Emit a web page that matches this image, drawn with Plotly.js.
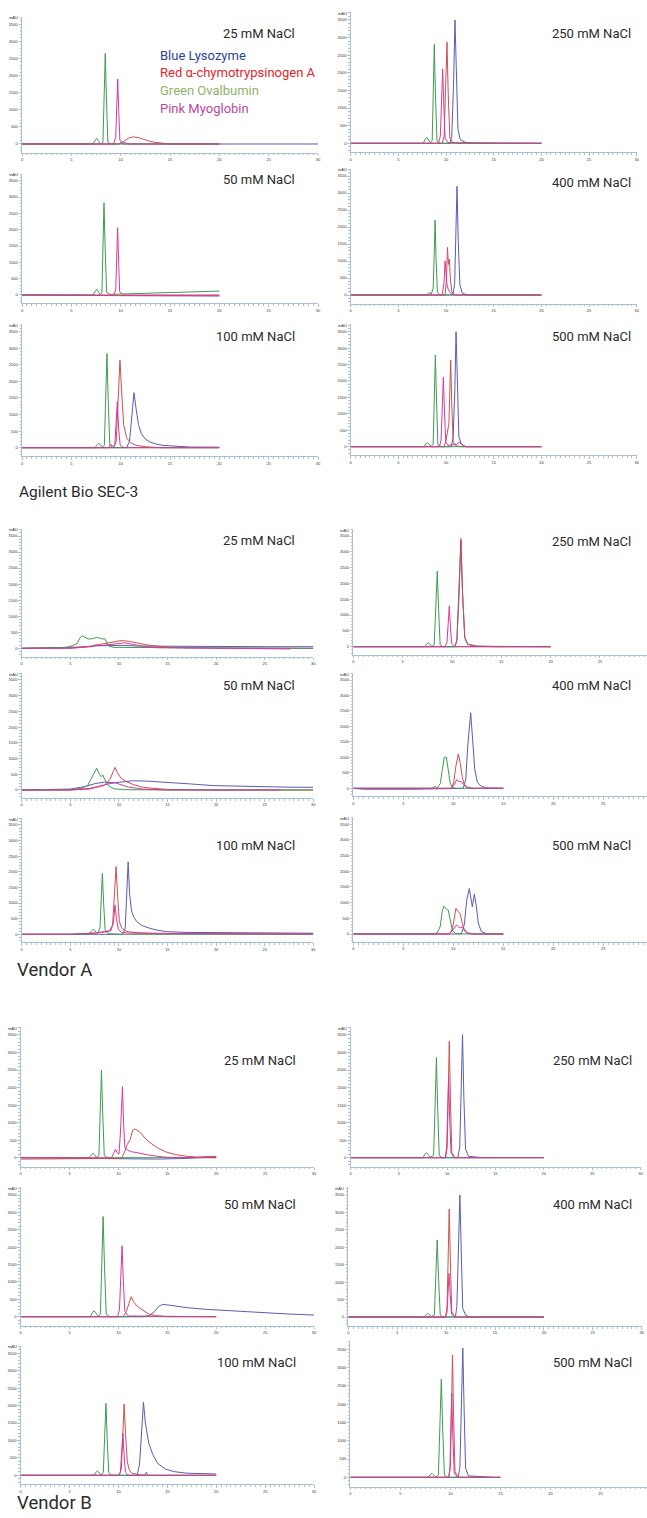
<!DOCTYPE html>
<html><head><meta charset="utf-8">
<script src="https://cdn.plot.ly/plotly-3.0.1.min.js"></script>
<style>html,body{margin:0;padding:0;background:#fff}</style>
</head><body><div id="chart" style="width:647px;height:1518px"></div>
<script>
// ---------- DATA: [time (min), absorbance (mAU)] ----------
// Agilent Bio SEC-3
const agi25_blue  = [[0,0],[9.8,0],[10.1,30],[10.3,45],[10.6,20],[11,0],[20,0],[30,0]];
const agi25_red   = [[0,0],[9.8,0],[10.3,80],[10.8,170],[11.3,210],[11.9,180],[12.6,110],[13.4,50],[14.5,15],[15.5,0],[20,0]];
const agi25_green = [[0,0],[7.2,0],[7.45,120],[7.57,165],[7.7,110],[7.95,0],[8.2,40],[8.32,1300],[8.44,2650],[8.56,1300],[8.7,60],[9.0,0],[20,0]];
const agi25_pink  = [[0,0],[9.3,0],[9.5,200],[9.6,1000],[9.7,1900],[9.8,1000],[9.92,120],[10.2,0],[20,0]];

const agi50_blue  = [[0,0],[4,-15],[10,-20],[16,-25],[20,-30]];
const agi50_red   = [[0,0],[4,-10],[10,-15],[20,-20]];
const agi50_green = [[0,0],[7.2,0],[7.45,130],[7.57,180],[7.7,120],[7.9,10],[8.1,60],[8.2,1400],[8.31,2820],[8.43,1400],[8.58,80],[8.9,20],[10,30],[15,75],[20,120]];
const agi50_pink  = [[0,0],[9.3,0],[9.5,150],[9.59,1050],[9.69,2060],[9.79,1050],[9.9,100],[10.2,0],[20,0]];

const agi100_blue  = [[0,0],[10.6,0],[10.9,200],[11.1,800],[11.35,1660],[11.55,1200],[11.8,700],[12.1,420],[12.5,260],[13,170],[13.6,110],[14.3,70],[15.5,40],[17,20],[20,15]];
const agi100_red   = [[0,0],[9.3,0],[9.55,200],[9.75,1400],[9.93,2640],[10.1,1700],[10.3,700],[10.6,300],[11,150],[11.6,70],[12.5,30],[14,0],[20,0]];
const agi100_green = [[0,0],[7.4,0],[7.65,100],[7.8,130],[7.95,90],[8.15,10],[8.35,80],[8.48,1450],[8.61,2840],[8.74,1400],[8.9,80],[9.2,0],[20,0]];
const agi100_pink  = [[0,0],[8.8,0],[8.95,80],[9.05,100],[9.2,30],[9.4,80],[9.53,700],[9.66,1390],[9.79,600],[9.95,80],[10.3,0],[20,0]];

const agi250_blue  = [[0,0],[10.4,0],[10.6,200],[10.78,1600],[10.94,3500],[11.08,1700],[11.25,400],[11.5,100],[12,30],[13,0],[20,0]];
const agi250_red   = [[0,0],[9.6,0],[9.8,200],[9.95,1400],[10.1,2870],[10.23,1400],[10.4,150],[10.7,30],[11.2,0],[20,0]];
const agi250_green = [[0,0],[7.6,0],[7.85,130],[7.98,170],[8.1,120],[8.35,10],[8.55,80],[8.65,1400],[8.77,2810],[8.89,1400],[9.05,60],[9.4,0],[20,0]];
const agi250_pink  = [[0,0],[9.2,0],[9.4,200],[9.53,1050],[9.65,2110],[9.77,1050],[9.9,150],[10.2,20],[20,0]];

const agi400_blue  = [[0,0],[10.7,0],[10.9,300],[11.02,1600],[11.15,3200],[11.28,1600],[11.45,300],[11.7,60],[12.2,0],[20,0]];
const agi400_red   = [[0,0],[9.9,0],[10.05,500],[10.15,1400],[10.25,900],[10.35,1050],[10.45,500],[10.6,100],[10.9,0],[20,0]];
const agi400_green = [[0,0],[8.0,0],[8.2,60],[8.3,80],[8.45,20],[8.65,200],[8.75,1100],[8.85,2200],[8.95,1100],[9.1,80],[9.4,0],[20,0]];
const agi400_pink  = [[0,0],[9.6,0],[9.8,400],[9.9,1000],[10.0,650],[10.1,300],[10.25,150],[10.5,50],[10.8,0],[20,0]];

const agi500_blue  = [[0,0],[10.55,0],[10.75,300],[10.92,1700],[11.05,3500],[11.18,1700],[11.35,300],[11.6,80],[12.1,0],[20,0]];
const agi500_red   = [[0,0],[9.8,0],[10.0,200],[10.2,500],[10.3,700],[10.38,1500],[10.49,2640],[10.6,1300],[10.75,150],[11.0,30],[11.6,0],[20,0]];
const agi500_green = [[0,0],[7.7,0],[7.9,90],[8.04,120],[8.18,80],[8.45,10],[8.65,80],[8.76,1400],[8.88,2790],[9.0,1400],[9.15,60],[9.5,0],[20,0]];
const agi500_pink  = [[0,0],[9.3,0],[9.48,200],[9.6,1050],[9.72,2110],[9.84,1050],[9.97,150],[10.2,40],[11.2,80],[11.4,150],[11.6,80],[12,0],[20,0]];

// Vendor A
const va25_blue  = [[0,0],[3,10],[6,40],[8,80],[9.5,100],[10.5,90],[12,70],[15,60],[20,55],[25,50],[30,50]];
const va25_red   = [[0,0],[5,10],[7,60],[8.5,150],[9.5,210],[10.2,240],[11,220],[12,160],[13,100],[14.5,50],[16,20],[20,10],[30,0]];
const va25_green = [[0,0],[4.5,20],[5.2,80],[5.7,150],[6.0,330],[6.25,390],[6.5,340],[6.9,290],[7.3,300],[7.7,340],[8.0,320],[8.3,290],[8.55,300],[8.75,200],[8.95,70],[9.5,30],[12,20],[20,10],[30,0]];
const va25_pink  = [[0,0],[5,0],[7.2,50],[7.6,110],[8,80],[9,120],[10,160],[10.6,170],[11.5,120],[12.5,60],[14,20],[20,0],[25,-20],[27.6,-20]];

const va50_blue  = [[0,0],[3,5],[5,30],[6.5,110],[7.5,200],[8.5,250],[9.5,230],[10.5,260],[11.5,295],[13,280],[15,250],[17.5,190],[19.7,140],[22.5,115],[25,100],[27.5,90],[30,85]];
const va50_red   = [[0,0],[5,0],[7,30],[8.5,150],[9.1,350],[9.4,600],[9.6,720],[9.85,550],[10.2,380],[10.8,260],[11.5,170],[12.3,100],[13.2,60],[15,20],[20,0],[30,0]];
const va50_green = [[0,0],[5,10],[6.2,50],[6.8,150],[7.3,450],[7.72,690],[8.0,500],[8.2,420],[8.34,477],[8.6,300],[9.0,120],[9.5,40],[10.5,10],[15,0],[30,0]];
const va50_pink  = [[0,0],[5,0],[7,50],[8.2,150],[9,200],[9.6,230],[10.2,180],[11,90],[12.5,30],[15,0],[26.5,0]];

const va100_blue  = [[0,0],[10.4,0],[10.65,200],[10.8,1200],[10.95,2320],[11.1,1300],[11.3,750],[11.5,566],[11.8,420],[12.3,290],[13.2,190],[14,130],[14.9,85],[17,60],[20,50],[25,40],[30,35]];
const va100_red   = [[0,0],[5,0],[7.5,40],[9,90],[9.35,300],[9.55,1200],[9.71,2170],[9.87,1200],[10.05,400],[10.3,200],[10.6,120],[11,80],[12,50],[14,30],[20,20],[30,10]];
const va100_green = [[0,0],[6.9,0],[7.2,110],[7.38,160],[7.55,100],[7.8,20],[8.05,200],[8.17,1000],[8.3,1950],[8.43,1000],[8.58,150],[8.9,20],[10,0],[30,0]];
const va100_pink  = [[0,0],[5,0],[7.5,40],[9.2,120],[9.45,400],[9.6,940],[9.75,500],[9.95,150],[10.3,60],[11,40],[14,20],[22,20],[30,10]];

const va250_blue  = [[0,0],[10.3,0],[10.5,220],[10.72,1650],[10.9,3350],[11.07,1650],[11.3,280],[11.6,70],[12.5,15],[20,0]];
const va250_red   = [[0,0],[10.3,0],[10.5,200],[10.72,1700],[10.91,3420],[11.08,1700],[11.3,300],[11.6,80],[12.5,20],[14.2,0],[20,0]];
const va250_green = [[0,0],[7.2,0],[7.45,90],[7.6,120],[7.75,90],[7.95,10],[8.2,60],[8.38,1200],[8.51,2390],[8.64,1200],[8.8,60],[9.1,0],[20,0]];
const va250_pink  = [[0,0],[9.3,0],[9.5,150],[9.62,650],[9.73,1290],[9.84,650],[9.97,100],[10.3,0],[20,0]];

const va400_blue  = [[0,0],[1,-30],[6,-30],[9,0],[11.0,0],[11.25,300],[11.45,1400],[11.74,2440],[11.95,1500],[12.15,600],[12.4,200],[12.8,60],[13.5,10],[15,0]];
const va400_red   = [[0,0],[9.8,0],[10.05,200],[10.25,700],[10.5,1110],[10.7,800],[10.9,350],[11.1,120],[11.4,30],[12,0],[15,0]];
const va400_green = [[0,0],[7.8,0],[8.05,40],[8.2,55],[8.4,20],[8.7,150],[8.9,600],[9.1,1000],[9.3,1010],[9.5,600],[9.7,150],[9.95,20],[10.3,0],[15,0]];
const va400_pink  = [[0,0],[9.8,0],[10.1,120],[10.35,280],[10.55,220],[10.8,210],[11.0,130],[11.3,40],[11.8,0],[15,0]];

const va500_blue  = [[0,0],[10.8,0],[11.1,300],[11.35,1100],[11.6,1450],[11.75,1150],[11.9,870],[12.1,1270],[12.3,900],[12.5,350],[12.8,80],[13.3,10],[15,0]];
const va500_red   = [[0,0],[9.6,0],[9.9,150],[10.1,600],[10.27,820],[10.45,730],[10.67,660],[10.9,350],[11.1,100],[11.4,20],[12,0],[15,0]];
const va500_green = [[0,0],[8.0,0],[8.4,40],[8.7,250],[8.9,750],[9.07,890],[9.3,800],[9.5,760],[9.7,450],[9.9,120],[10.2,20],[11,0],[15,0]];
const va500_pink  = [[0,0],[9.6,0],[9.95,120],[10.2,260],[10.33,290],[10.55,220],[10.75,200],[10.9,230],[11.1,140],[11.4,40],[12,0],[15,0]];

// Vendor B
const vb25_blue  = [[0,0],[5,-10],[8,-20],[11,-40],[14,-40],[17,-20],[19,20],[20,30]];
const vb25_red   = [[0,-40],[5,-40],[10.3,-20],[10.6,150],[10.9,380],[11.2,520],[11.45,780],[11.65,818],[11.9,790],[12.3,700],[12.7,560],[13.1,457],[13.5,370],[13.9,295],[14.8,171],[15.8,90],[17,40],[18,20],[20,40]];
const vb25_green = [[0,0],[7.0,0],[7.25,90],[7.38,125],[7.52,90],[7.75,10],[8.0,60],[8.13,1250],[8.26,2500],[8.39,1250],[8.55,60],[8.9,0],[20,0]];
const vb25_pink  = [[0,0],[9.3,0],[9.55,150],[9.7,240],[9.85,150],[10.05,100],[10.2,700],[10.3,1300],[10.41,2030],[10.52,1000],[10.65,300],[10.9,220],[11.3,170],[11.8,150],[12.3,120],[13,80],[14,40],[15,10],[20,0]];

const vb50_blue  = [[0,0],[5,0],[10,0],[12.5,0],[13.2,40],[13.7,150],[14.1,290],[14.54,355],[15.5,320],[17,260],[19,211],[21,175],[23.2,144],[25.5,110],[27.4,77],[30,48]];
const vb50_red   = [[0,0],[10.5,0],[10.8,150],[11.1,450],[11.3,575],[11.55,430],[11.8,335],[12.2,240],[12.6,160],[13.1,80],[13.8,30],[15,0],[20,0]];
const vb50_green = [[0,0],[7.1,0],[7.35,120],[7.5,170],[7.65,110],[7.95,10],[8.15,80],[8.29,1440],[8.43,2880],[8.57,1440],[8.75,70],[9.1,0],[20,0]];
const vb50_pink  = [[0,0],[9.9,0],[10.1,200],[10.24,1000],[10.37,2040],[10.5,1000],[10.65,150],[11,20],[20,0]];

const vb100_blue  = [[0,0],[11.9,0],[12.15,300],[12.35,1200],[12.56,2094],[12.75,1500],[12.95,1100],[13.1,918],[13.5,600],[14,344],[14.8,180],[15.7,105],[17,60],[20,38]];
const vb100_red   = [[0,0],[10.1,0],[10.3,200],[10.45,1100],[10.58,2046],[10.72,1200],[10.9,400],[11.1,150],[11.4,60],[12,20],[13,0],[20,0]];
const vb100_green = [[0,0],[7.5,0],[7.7,90],[7.84,124],[7.98,90],[8.2,10],[8.45,80],[8.59,1030],[8.72,2065],[8.85,1030],[9.0,80],[9.3,0],[20,0]];
const vb100_pink  = [[0,0],[10.0,0],[10.2,100],[10.33,600],[10.45,1205],[10.57,600],[10.72,80],[11,0],[12.7,0],[12.85,90],[13.0,0],[20,0]];

const vb250_blue  = [[0,0],[11.1,0],[11.3,300],[11.45,1700],[11.59,3510],[11.73,1700],[11.9,250],[12.2,40],[13.7,0]];
const vb250_red   = [[0,0],[9.85,0],[10.0,300],[10.1,1650],[10.22,3320],[10.34,1650],[10.48,150],[10.8,0],[20,0]];
const vb250_green = [[0,0],[7.5,0],[7.72,110],[7.86,145],[8.0,100],[8.25,10],[8.6,70],[8.76,1400],[8.89,2860],[9.02,1400],[9.18,60],[9.5,0],[20,0]];
const vb250_pink  = [[0,0],[9.8,0],[9.95,300],[10.05,1150],[10.15,2280],[10.26,1100],[10.4,150],[10.7,0],[20,0]];

const vb400_blue  = [[0,0],[10.95,0],[11.1,300],[11.26,1750],[11.41,3500],[11.56,1750],[11.7,250],[12,50],[12.4,0],[20,0]];
const vb400_red   = [[0,0],[9.95,0],[10.1,300],[10.2,1550],[10.32,3100],[10.44,1550],[10.58,150],[10.9,0],[20,0]];
const vb400_green = [[0,0],[7.8,0],[8.0,80],[8.12,105],[8.25,70],[8.5,10],[8.8,60],[8.95,1100],[9.09,2210],[9.23,1100],[9.4,60],[9.7,0],[20,0]];
const vb400_pink  = [[0,0],[9.95,0],[10.1,150],[10.2,650],[10.3,1250],[10.42,650],[10.56,80],[10.9,0],[20,0]];

const vb500_blue  = [[0,0],[10.8,0],[10.95,300],[11.1,1760],[11.24,3530],[11.38,1760],[11.52,250],[11.8,40],[14.2,0]];
const vb500_red   = [[0,0],[9.85,0],[10.0,300],[10.1,1670],[10.21,3345],[10.32,1670],[10.46,150],[10.8,0],[15,0]];
const vb500_green = [[0,0],[7.8,0],[8.0,80],[8.14,110],[8.28,70],[8.55,10],[8.8,60],[8.95,1340],[9.09,2680],[9.23,1340],[9.4,60],[9.7,0],[15,0]];
const vb500_pink  = [[0,0],[9.8,0],[9.95,200],[10.03,1150],[10.13,2300],[10.24,1150],[10.38,120],[10.7,0],[15,0]];

const xTicks = [0,5,10,15,20,25,30];
const yTicks = [0,500,1000,1500,2000,2500,3000,3500];
const legendLines = ['Blue Lysozyme','Red \u03b1-chymotrypsinogen A','Green Ovalbumin','Pink Myoglobin'];
const sectionNames = ['Agilent Bio SEC-3','Vendor A','Vendor B'];

// ---------- LAYOUT (pixel geometry of each panel) ----------
// [series, label, px of t=0, px of t=30, py of 0 mAU, py of 3500 mAU, label right px, label center py, show mAU]
const panels = [
  [[agi25_blue,agi25_red,agi25_green,agi25_pink],'25 mM NaCl',22,318,144,24.3,297,33.3,1],
  [[agi50_blue,agi50_red,agi50_green,agi50_pink],'50 mM NaCl',22,318,295,180.7,297,180,1],
  [[agi100_blue,agi100_red,agi100_green,agi100_pink],'100 mM NaCl',22,318,447.7,331.7,297,336.7,1],
  [[agi250_blue,agi250_red,agi250_green,agi250_pink],'250 mM NaCl',350.7,636.7,143.3,20,633.3,33.3,1],
  [[agi400_blue,agi400_red,agi400_green,agi400_pink],'400 mM NaCl',350.7,636.7,295,176,633.3,182,1],
  [[agi500_blue,agi500_red,agi500_green,agi500_pink],'500 mM NaCl',350.7,636.7,446.7,331.7,633.3,336.7,1],
  [[va25_blue,va25_red,va25_green,va25_pink],'25 mM NaCl',21.7,313.3,648.3,536,297,540.7,1],
  [[va50_blue,va50_red,va50_green,va50_pink],'50 mM NaCl',21.7,313.3,790,680,297,685,1],
  [[va100_blue,va100_red,va100_green,va100_pink],'100 mM NaCl',21.7,313.3,934.3,825,297,845,1],
  [[va250_blue,va250_red,va250_green,va250_pink],'250 mM NaCl',353.3,649.3,646.7,536,633.3,541.7,1],
  [[va400_blue,va400_red,va400_green,va400_pink],'400 mM NaCl',353.3,653.3,788.3,680,633.3,685,1],
  [[va500_blue,va500_red,va500_green,va500_pink],'500 mM NaCl',353.3,653.3,934,824.3,633.3,845,1],
  [[vb25_blue,vb25_red,vb25_green,vb25_pink],'25 mM NaCl',20.7,314,1157.7,1035,298,1060,1],
  [[vb50_blue,vb50_red,vb50_green,vb50_pink],'50 mM NaCl',20.7,314,1316.7,1195,298,1204,1],
  [[vb100_blue,vb100_red,vb100_green,vb100_pink],'100 mM NaCl',20.7,314,1475.3,1353.3,298,1362,1],
  [[vb250_blue,vb250_red,vb250_green,vb250_pink],'250 mM NaCl',350.5,640.5,1157.7,1035,634,1060,1],
  [[vb400_blue,vb400_red,vb400_green,vb400_pink],'400 mM NaCl',348.3,641.7,1317,1195,634,1204,1],
  [[vb500_blue,vb500_red,vb500_green,vb500_pink],'500 mM NaCl',350.4,650.4,1477.3,1349.3,634,1362,0]
];

const W = 647, H = 1518;
const lineColors = ['#5a5cb4','#c9514f','#3f9a52','#d8399b'];
const legendColors = ['#2c3f98','#e5252b','#8db36a','#c0479c'];
const axisColor = '#a9c0d4';
const FONT = 'Roboto, sans-serif';
const YMIN = -260, YMAX = 3720;

const traces = [];
const layout = {
  width: W, height: H, margin: {l:0, r:0, t:0, b:0},
  paper_bgcolor: '#fff', plot_bgcolor: 'rgba(0,0,0,0)',
  showlegend: false, annotations: []
};

panels.forEach((p, i) => {
  const n = i + 1;
  const [series, label, px0, px30, py0, py3500, lx, ly, showUnit] = p;
  const kx = (px30 - px0) / 30;
  const xEndPx = Math.min(px30, W);
  const xEnd = (xEndPx - px0) / kx;
  const ky = (py0 - py3500) / 3500;
  const top = py0 - YMAX * ky;
  const bottom = py0 - YMIN * ky;
  const xa = 'xaxis' + (n === 1 ? '' : n), ya = 'yaxis' + (n === 1 ? '' : n);
  const xr = 'x' + (n === 1 ? '' : n), yr = 'y' + (n === 1 ? '' : n);
  layout[xa] = {
    domain: [px0 / W, xEndPx / W], range: [0, xEnd], anchor: yr,
    showline: true, linecolor: axisColor, linewidth: 1, mirror: false,
    ticks: 'outside', ticklen: 2.5, tickcolor: axisColor, tickwidth: 1,
    tickvals: xTicks, ticktext: xTicks.map(String),
    tickfont: {size: 4, color: '#333', family: 'Arial'},
    minor: {ticks: 'outside', ticklen: 1.5, tickcolor: axisColor, dtick: 0.5, showgrid: false},
    showgrid: false, zeroline: false, fixedrange: true
  };
  layout[ya] = {
    domain: [1 - bottom / H, 1 - top / H], range: [YMIN, YMAX], anchor: xr,
    showline: true, linecolor: axisColor, linewidth: 1,
    ticks: 'outside', ticklen: 2.5, tickcolor: axisColor, tickwidth: 1,
    tickvals: yTicks, ticktext: yTicks.map(String),
    tickfont: {size: 4, color: '#333', family: 'Arial'},
    minor: {ticks: 'outside', ticklen: 1.5, tickcolor: axisColor, dtick: 100, showgrid: false},
    showgrid: false, zeroline: false, fixedrange: true
  };
  series.forEach((pts, s) => {
    traces.push({
      type: 'scatter', mode: 'lines', xaxis: xr, yaxis: yr,
      x: pts.map(q => q[0]), y: pts.map(q => q[1]),
      line: {color: lineColors[s], width: 1}, hoverinfo: 'skip'
    });
  });
  layout.annotations.push({
    xref: 'paper', yref: 'paper', x: lx / W, y: 1 - ly / H,
    xanchor: 'right', yanchor: 'middle', showarrow: false,
    text: label, font: {family: FONT, size: 13, color: '#2b2b2b'}
  });
  if (showUnit) {
    layout.annotations.push({
      xref: 'paper', yref: 'paper', x: (px0 - 2) / W, y: 1 - (top + 1) / H,
      xanchor: 'right', yanchor: 'middle', showarrow: false,
      text: 'mAU', font: {family: 'Arial', size: 4, color: '#333'}
    });
  }
});

// legend text in first panel
const legY = [55, 72.5, 90.5, 108];
legendLines.forEach((t, i) => {
  layout.annotations.push({
    xref: 'paper', yref: 'paper', x: 158 / W, y: 1 - legY[i] / H,
    xanchor: 'left', yanchor: 'middle', showarrow: false,
    text: t, font: {family: FONT, size: 13, color: legendColors[i]}
  });
});

// section titles
const secPos = [[17, 492, 15.5], [15, 970, 18.5], [15, 1503, 18.5]];
sectionNames.forEach((t, i) => {
  layout.annotations.push({
    xref: 'paper', yref: 'paper', x: secPos[i][0] / W, y: 1 - secPos[i][1] / H,
    xanchor: 'left', yanchor: 'middle', showarrow: false,
    text: t, font: {family: FONT, size: secPos[i][2], color: '#2b2b2b'}
  });
});

Plotly.newPlot('chart', traces, layout, {staticPlot: true, displayModeBar: false});
</script></body></html>
